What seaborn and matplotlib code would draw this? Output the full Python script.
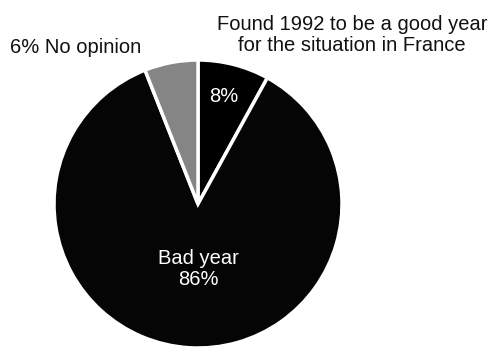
import matplotlib
matplotlib.use('Agg')
import matplotlib.pyplot as plt
import seaborn as sns

labels = ['Good year', 'Bad year', 'No opinion']
shares = [8, 86, 6]
colors = ['#000000', '#050505', '#858585']

sns.set_theme(style='white')
plt.rcParams['font.family'] = ['Liberation Sans', 'DejaVu Sans']

fig = plt.figure(figsize=(4.97, 3.48), dpi=100)
ax = fig.add_axes([0, 0, 1, 1])

# pie centre at (198, 204) px, radius 144 px
r = 144
ax.pie(shares, colors=colors, startangle=90, counterclock=False,
       radius=1, wedgeprops=dict(edgecolor='white', linewidth=2.5))
ax.set_xlim(-198 / r, (497 - 198) / r)
ax.set_ylim(-(348 - 204) / r, 204 / r)
ax.set_aspect('equal')
ax.axis('off')

def px(x, y):
    return (x - 198) / r, (204 - y) / r

ax.text(*px(352, 35), 'Found 1992 to be a good year\nfor the situation in France',
        ha='center', va='center', fontsize=14.5, linespacing=1.15, color='#111')
ax.text(*px(10, 47), f'{shares[2]}% No opinion', ha='left', va='center',
        fontsize=14.5, color='#111')
ax.text(*px(224, 96), f'{shares[0]}%', ha='center', va='center',
        fontsize=14.5, color='white')
ax.text(*px(198, 269), f'{labels[1]}\n{shares[1]}%', ha='center', va='center',
        fontsize=14.5, color='white', linespacing=1.15)

fig.savefig('out.png', dpi=100)
